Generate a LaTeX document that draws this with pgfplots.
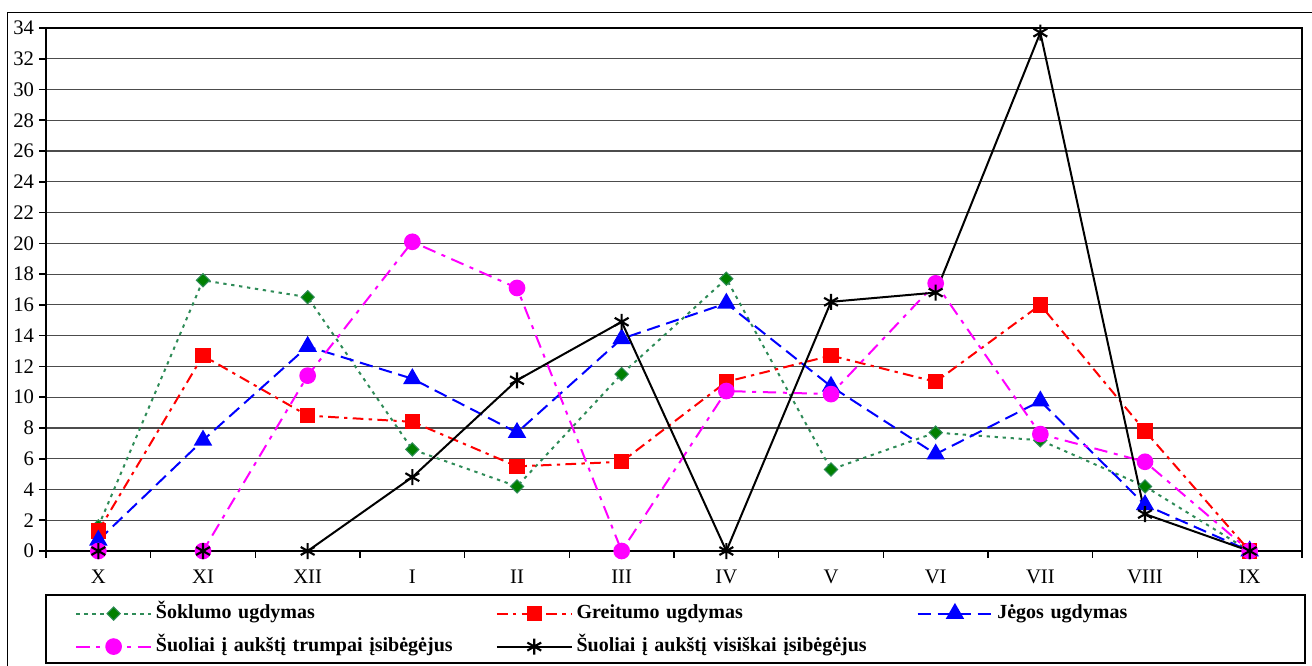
\documentclass[border=0pt]{standalone}
\usepackage{fontspec}
\setmainfont{Liberation Serif}
\usepackage{pgfplots}
\pgfplotsset{compat=1.18}
\definecolor{sgreen}{RGB}{46,139,87}
\definecolor{dgreen}{RGB}{0,128,0}
\definecolor{mag}{RGB}{255,0,255}
\begin{document}
\begin{tikzpicture}
\useasboundingbox (0,0) rectangle (984pt,-499.5pt);
\draw[line width=0.75pt] (5.25pt,-9.75pt) rectangle (1000pt,-510pt);
\draw[line width=1.5pt] (34.5pt,-446.25pt) rectangle (978.75pt,-497.25pt);
\begin{axis}[
 at={(34.5pt,-413.25pt)}, anchor=south west,
 scale only axis, width=942pt, height=392.25pt,
 xmin=0, xmax=12, ymin=0, ymax=34,
 xtick={0,...,12},
 xticklabels={X,XI,XII,I,II,III,IV,V,VI,VII,VIII,IX},
 x tick label as interval,
 ytick={0,2,...,34},
 ymajorgrids,
 major grid style={black!70, line width=0.9pt},
 axis line style={black, line width=0.8pt},
 tick style={black, line width=1.2pt},
 tick align=outside, major tick length=5pt,
 tick pos=left,
 tick label style={font=\fontsize{15.5}{18}\selectfont},
 /pgf/number format/assume math mode=true,
 xticklabel style={yshift=-5.5pt},
 yticklabel style={xshift=-0.5pt},
 legend columns=3,
 legend style={draw=none, fill=none, at={(axis description cs:0.0231,-0.100)}, anchor=north west,
   font=\bfseries\fontsize{15}{17}\selectfont, inner sep=0pt, row sep=9.75pt,
   nodes={text width=255pt, text height=11pt, text depth=4pt, inner xsep=0pt, inner ysep=0pt, anchor=west, align=left},
   /tikz/every odd column/.append style={column sep=3pt},
   /tikz/every even column/.append style={column sep=0pt}},
 legend image code/.code={\draw[mark repeat=2,mark phase=2] plot coordinates {(0pt,0pt)(28pt,0pt)(56pt,0pt)};},
]
\draw[line width=1.6pt] (rel axis cs:0,0) -- (rel axis cs:0,1);
\draw[line width=1.6pt] (rel axis cs:0,0) -- (rel axis cs:1,0);
\addplot[sgreen, line width=1.5pt, dash pattern=on 2.5pt off 3.5pt, mark=square*, mark size=3.5pt,
  mark options={solid, rotate=45, fill=dgreen, draw=sgreen, line width=0.8pt}] coordinates {
 (0.5,1.6) (1.5,17.6) (2.5,16.5) (3.5,6.6) (4.5,4.2) (5.5,11.5) (6.5,17.7) (7.5,5.3) (8.5,7.7) (9.5,7.2) (10.5,4.2) (11.5,0)};
\addlegendentry{Šoklumo ugdymas}
\addplot[red, line width=1.5pt, dash pattern=on 8pt off 4pt on 2.5pt off 4pt, mark=square*, mark size=5pt,
  mark options={solid}] coordinates {
 (0.5,1.3) (1.5,12.7) (2.5,8.8) (3.5,8.4) (4.5,5.5) (5.5,5.8) (6.5,11.0) (7.5,12.7) (8.5,11.0) (9.5,16.0) (10.5,7.8) (11.5,0)};
\addlegendentry{Greitumo ugdymas}
\addplot[blue, line width=1.5pt, dash pattern=on 10pt off 5pt, mark=triangle*, mark size=6.5pt,
  mark options={solid}] coordinates {
 (0.5,0.7) (1.5,7.2) (2.5,13.3) (3.5,11.2) (4.5,7.7) (5.5,13.8) (6.5,16.1) (7.5,10.7) (8.5,6.3) (9.5,9.75) (10.5,3.0) (11.5,0)};
\addlegendentry{Jėgos ugdymas}
\addplot[mag, line width=1.5pt, dash pattern=on 10pt off 5pt on 3pt off 5pt, mark=*, mark size=5.5pt,
  mark options={solid}] coordinates {
 (0.5,0) (1.5,0) (2.5,11.4) (3.5,20.1) (4.5,17.1) (5.5,0) (6.5,10.4) (7.5,10.2) (8.5,17.4) (9.5,7.6) (10.5,5.8) (11.5,0)};
\addlegendentry{Šuoliai į aukštį trumpai įsibėgėjus}
\addplot[black, line width=1.5pt, mark=asterisk, mark size=6pt,
  mark options={solid, line width=1.6pt}] coordinates {
 (0.5,0) (1.5,0) (2.5,0) (3.5,4.8) (4.5,11.1) (5.5,14.9) (6.5,0) (7.5,16.2) (8.5,16.8) (9.5,33.7) (10.5,2.4) (11.5,0)};
\addlegendentry{Šuoliai į aukštį visiškai įsibėgėjus}
\end{axis}
\end{tikzpicture}
\end{document}
